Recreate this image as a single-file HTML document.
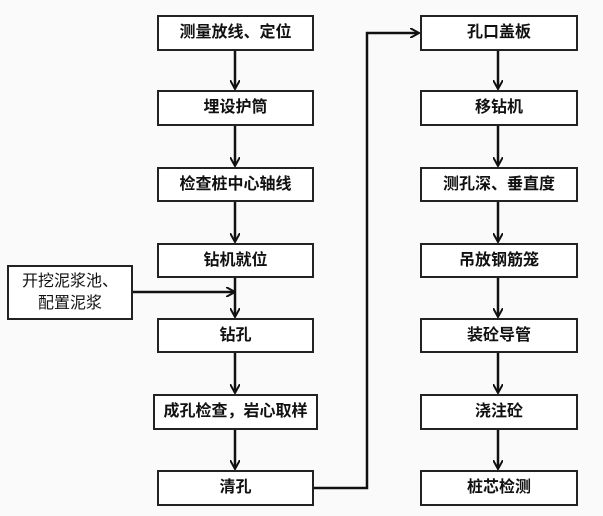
<!DOCTYPE html><html><head><meta charset="utf-8"><style>
body{margin:0;background:#fafafa;width:603px;height:516px;overflow:hidden;font-family:"Liberation Sans","Noto Sans CJK SC",sans-serif}
.b{position:absolute;border:2px solid #222;background:#fff;box-sizing:border-box;display:flex;align-items:center;justify-content:center;font-size:16px;font-weight:bold;color:#111;line-height:22px;text-align:center}
</style></head><body>
<svg width="603" height="516" style="position:absolute;left:0;top:0">
<defs><marker id="a" markerWidth="10" markerHeight="10" refX="8" refY="5" orient="auto" markerUnits="userSpaceOnUse"><path d="M0,0 L9,5 L0,10" fill="none" stroke="#111" stroke-width="2"/></marker></defs>
<g stroke="#111" stroke-width="2.5" fill="none">
<line x1="235" y1="51" x2="235" y2="88" marker-end="url(#a)"/>
<line x1="235" y1="126" x2="235" y2="165" marker-end="url(#a)"/>
<line x1="235" y1="201" x2="235" y2="241" marker-end="url(#a)"/>
<line x1="235" y1="277" x2="235" y2="316" marker-end="url(#a)"/>
<line x1="235" y1="353" x2="235" y2="392" marker-end="url(#a)"/>
<line x1="235" y1="430" x2="235" y2="468" marker-end="url(#a)"/>
<line x1="133" y1="292" x2="234" y2="292" marker-end="url(#a)"/>
<polyline points="314,488 367,488 367,33 418,33" marker-end="url(#a)"/>
<line x1="498" y1="51" x2="498" y2="88" marker-end="url(#a)"/>
<line x1="498" y1="126" x2="498" y2="165" marker-end="url(#a)"/>
<line x1="498" y1="201" x2="498" y2="241" marker-end="url(#a)"/>
<line x1="498" y1="277" x2="498" y2="316" marker-end="url(#a)"/>
<line x1="498" y1="353" x2="498" y2="392" marker-end="url(#a)"/>
<line x1="498" y1="430" x2="498" y2="468" marker-end="url(#a)"/>
</g></svg>
<div class="b" style="left:157px;top:15px;width:157px;height:36px">测量放线、定位</div>
<div class="b" style="left:157px;top:90px;width:157px;height:36px">埋设护筒</div>
<div class="b" style="left:157px;top:167px;width:157px;height:35px">检查桩中心轴线</div>
<div class="b" style="left:157px;top:243px;width:157px;height:35px">钻机就位</div>
<div class="b" style="left:157px;top:318px;width:157px;height:35px">钻孔</div>
<div class="b" style="left:153px;top:394px;width:165px;height:36px">成孔检查，岩心取样</div>
<div class="b" style="left:157px;top:470px;width:157px;height:36px">清孔</div>
<div class="b" style="left:7px;top:265px;width:126px;height:55px;font-weight:normal">开挖泥浆池、<br>配置泥浆</div>
<div class="b" style="left:420px;top:15px;width:158px;height:36px">孔口盖板</div>
<div class="b" style="left:420px;top:90px;width:158px;height:36px">移钻机</div>
<div class="b" style="left:420px;top:167px;width:158px;height:35px">测孔深、垂直度</div>
<div class="b" style="left:420px;top:243px;width:158px;height:35px">吊放钢筋笼</div>
<div class="b" style="left:420px;top:318px;width:158px;height:35px">装砼导管</div>
<div class="b" style="left:420px;top:394px;width:158px;height:36px">浇注砼</div>
<div class="b" style="left:420px;top:470px;width:158px;height:36px">桩芯检测</div>
</body></html>
